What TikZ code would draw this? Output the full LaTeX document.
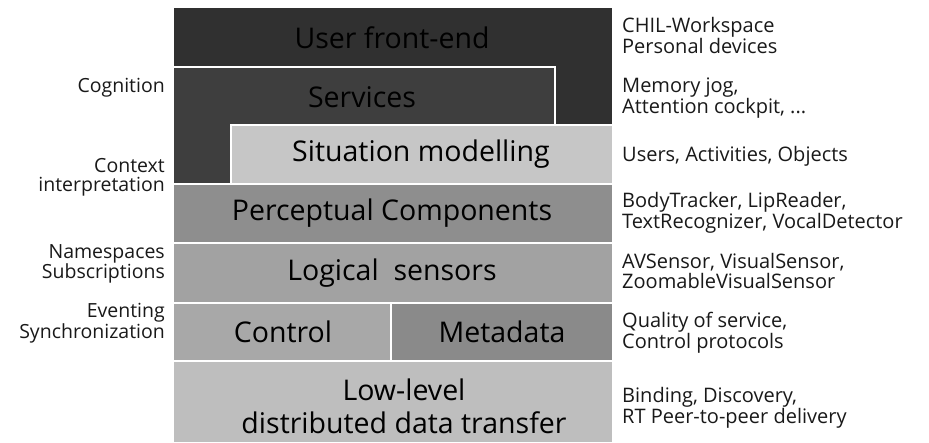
\documentclass[tikz,border=0pt]{standalone}
\usepackage{fontspec}
\setmainfont{Open Sans}
\definecolor{ufe}{HTML}{303030}
\definecolor{svc}{HTML}{3E3E3E}
\definecolor{sit}{HTML}{C6C6C6}
\definecolor{perc}{HTML}{8E8E8E}
\definecolor{logi}{HTML}{A2A2A2}
\definecolor{ctrl}{HTML}{A8A8A8}
\definecolor{meta}{HTML}{8A8A8A}
\definecolor{low}{HTML}{BEBEBE}
\tikzset{
  boxtext/.style={font=\fontsize{28.5}{28.5}\selectfont, text=black, inner sep=0pt, align=center},
  rlabel/.style={font=\fontsize{20}{19.5}\selectfont, anchor=west, align=left, inner sep=0pt, text=black!90},
  llabel/.style={font=\fontsize{19.5}{19}\selectfont, anchor=east, align=right, inner sep=0pt, text=black!90},
  sep/.style={white, line width=2pt}
}
\begin{document}
\begin{tikzpicture}[x=1pt,y=-1pt]
\useasboundingbox (0,0) rectangle (929,443);
\fill[white] (0,0) rectangle (929,443);
% layers
\fill[ufe] (174,8) rectangle (612,125);
\fill[svc] (174,67) -- (555,67) -- (555,125) -- (231,125) -- (231,184) -- (174,184) -- cycle;
\fill[sit] (231,125) rectangle (612,184);
\fill[perc] (174,184) rectangle (612,243);
\fill[logi] (174,243) rectangle (612,303);
\fill[ctrl] (174,303) rectangle (391,361);
\fill[meta] (391,303) rectangle (612,361);
\fill[low] (174,361) rectangle (612,442);
% separators
\draw[sep] (174,67) -- (555,67) -- (555,125);
\draw[sep] (231,184) -- (231,125) -- (612,125);
\draw[sep] (174,184) -- (612,184);
\draw[sep] (174,243) -- (612,243);
\draw[sep] (174,303) -- (612,303);
\draw[sep] (391,303) -- (391,361);
\draw[sep] (174,361) -- (612,361);
% layer texts
\node[boxtext] (tufe) at (392,38) {User front-end};
\node[boxtext] (tsvc) at (362,97) {Services};
\node[boxtext] (tsit) at (421,154) {Situation modelling};
\node[boxtext] (tperc) at (392,213) {Perceptual Components};
\node[boxtext] (tlogi) at (392,273) {Logical\ \ sensors};
\node[boxtext] (tctrl) at (283,332) {Control};
\node[boxtext] (tmeta) at (502,332) {Metadata};
\node[boxtext, font=\fontsize{28.5}{33}\selectfont] (tlow) at (404,406) {Low-level\\distributed data transfer};
% right labels
\node[rlabel] (r1) at (622,36) {CHIL-Workspace\\Personal devices};
\node[rlabel] (r2) at (622,98) {Memory jog,\\Attention cockpit, ...};
\node[rlabel] (r3) at (622,156) {Users, Activities, Objects};
\node[rlabel] (r4) at (622,213) {BodyTracker, LipReader,\\TextRecognizer, VocalDetector};
\node[rlabel] (r5) at (622,271) {AVSensor, VisualSensor,\\ZoomableVisualSensor};
\node[rlabel] (r6) at (622,333) {Quality of service,\\Control protocols};
\node[rlabel] (r7) at (622,408) {Binding, Discovery,\\RT Peer-to-peer delivery};
% left labels
\node[llabel] (l1) at (165,88) {Cognition};
\node[llabel] (l2) at (165,177) {Context\\interpretation};
\node[llabel] (l3) at (165,264) {Namespaces\\Subscriptions};
\node[llabel] (l4) at (165,323) {Eventing\\Synchronization};
\end{tikzpicture}
\end{document}
